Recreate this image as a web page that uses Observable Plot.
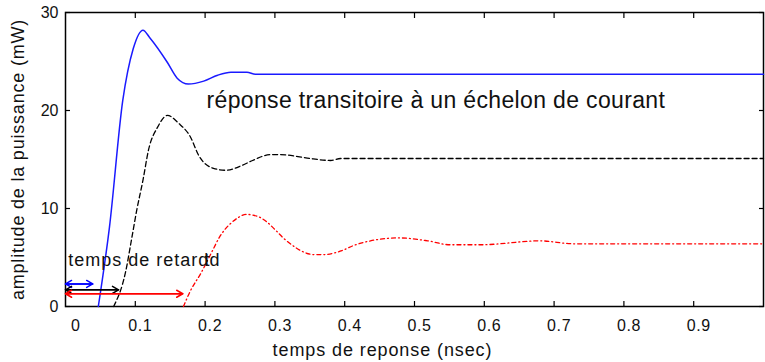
<!DOCTYPE html>
<html>
<head>
<meta charset="utf-8">
<script src="https://cdn.jsdelivr.net/npm/d3@7"></script>
<script src="https://cdn.jsdelivr.net/npm/@observablehq/plot@0.6"></script>
<style>
  body { margin: 0; background: #fff; }
  svg { display: block; }
</style>
</head>
<body>
<div id="chart"></div>
<script>
// Step responses of the optical power (mW) vs time (ns) for three drive currents
const blueT = [0.047, 0.063, 0.082, 0.097, 0.111, 0.121, 0.146, 0.160, 0.176, 0.198, 0.218, 0.237, 0.260, 0.272, 1.0];
const blueP = [0, 8.1, 21.0, 26.3, 28.2, 27.4, 24.9, 23.3, 22.7, 23.0, 23.6, 23.9, 23.9, 23.7, 23.7];

const blackT = [0.069, 0.086, 0.095, 0.102, 0.111, 0.119, 0.132, 0.146, 0.162, 0.179, 0.191, 0.212, 0.230, 0.253, 0.268, 0.294, 0.308, 0.333, 0.351, 0.380, 0.394, 1.0];
const blackP = [0, 3.5, 7.0, 9.8, 12.9, 16.0, 18.3, 19.5, 18.7, 17.3, 15.4, 14.1, 13.9, 14.4, 14.9, 15.5, 15.5, 15.3, 15.1, 14.9, 15.1, 15.1];

const redT = [0.169, 0.179, 0.194, 0.212, 0.220, 0.230, 0.237, 0.248, 0.259, 0.275, 0.289, 0.298, 0.315, 0.330, 0.337, 0.356, 0.370, 0.396, 0.412, 0.437, 0.477, 0.519, 0.551, 0.595, 0.680, 0.728, 0.838, 1.0];
const redP = [0, 1.6, 3.4, 5.9, 7.0, 8.0, 8.5, 9.1, 9.4, 9.2, 8.6, 8.0, 6.8, 6.0, 5.7, 5.3, 5.3, 5.7, 6.2, 6.7, 7.0, 6.7, 6.3, 6.3, 6.7, 6.4, 6.4, 6.4];

// Delay time (td) markers: double arrows from t = 0 to each delay
const delayColors = ["#0000ff", "#000000", "#ff0000"];
const delayEnds = [0.039, 0.076, 0.168];
const delayLevels = [2.3, 1.7, 1.3];
const delayStart = 0;

// Axis ticks
const xTicks = [0.1, 0.2, 0.3, 0.4, 0.5, 0.6, 0.7, 0.8, 0.9];
const xTickLabels = ["0.1", "0.2", "0.3", "0.4", "0.5", "0.6", "0.7", "0.8", "0.9"];
const xOrigin = [0];
const xOriginLabel = "0";
const yTicks = [0, 10, 20, 30];
const yTickLabels = ["0", "10", "20", "30"];

// Texts
const title = "réponse transitoire à un échelon de courant";
const delayLabel = "temps de retard";
const tdLabel = "td";
const xLabel = "temps de reponse (nsec)";
const yLabel = "amplitude de la puissance (mW)";

const rows = (ts, ps) => ts.map((t, i) => ({t, p: ps[i]}));
const arrows = delayEnds.map((e, i) => ({a: delayStart, b: e, y: delayLevels[i], c: delayColors[i]}));

const font = "'Liberation Sans', Arial, sans-serif";

const chart = Plot.plot({
  width: 765,
  height: 362,
  marginLeft: 65,
  marginRight: 2,
  marginTop: 12,
  marginBottom: 56,
  x: {domain: [0, 1]},
  y: {domain: [0, 30]},
  color: {type: "identity"},
  style: {fontFamily: font, fontSize: "16px", background: "#fff", color: "#000"},
  marks: [
    // inward tick marks on all four sides
    Plot.axisX(xTicks, {anchor: "bottom", tickSize: -5, fill: "none", label: null, strokeWidth: 1.2}),
    Plot.axisX(xTicks, {anchor: "top", tickSize: -5, fill: "none", label: null, strokeWidth: 1.2}),
    Plot.axisY(yTicks, {anchor: "left", tickSize: -5, fill: "none", label: null, strokeWidth: 1.2}),
    Plot.axisY(yTicks, {anchor: "right", tickSize: -5, fill: "none", label: null, strokeWidth: 1.2}),
    // tick labels
    Plot.axisX(xTicks, {anchor: "bottom", tickSize: 0, tickPadding: 13, dx: 5, label: null,
      tickFormat: (d) => xTickLabels[xTicks.indexOf(d)], fontSize: 16, fill: "#111"}),
    Plot.axisX(xOrigin, {anchor: "bottom", tickSize: 0, tickPadding: 13, dx: 10, label: null,
      tickFormat: () => xOriginLabel, fontSize: 16, fill: "#111"}),
    Plot.axisY(yTicks, {anchor: "left", tickSize: 0, tickPadding: 7, label: null,
      tickFormat: (d) => yTickLabels[yTicks.indexOf(d)], fontSize: 16, fill: "#111"}),
    Plot.frame({stroke: "#000", strokeWidth: 1.5}),
    // response curves
    Plot.line(rows(blueT, blueP), {x: "t", y: "p", stroke: "#1a1aff", strokeWidth: 1.5, curve: "monotone-x"}),
    Plot.line(rows(blackT, blackP), {x: "t", y: "p", stroke: "#000", strokeWidth: 1.3, strokeDasharray: "5,3", curve: "monotone-x"}),
    Plot.line(rows(redT, redP), {x: "t", y: "p", stroke: "#ff0000", strokeWidth: 1.3, strokeDasharray: "4,3,1,3", curve: "monotone-x"}),
    // delay arrows (one head at each end)
    Plot.arrow(arrows, {x1: "a", x2: "b", y1: "y", y2: "y", stroke: "c", strokeWidth: 1.5, headLength: 7}),
    Plot.arrow(arrows, {x1: "b", x2: "a", y1: "y", y2: "y", stroke: "c", strokeWidth: 1.5, headLength: 7}),
    // annotations
    Plot.text([title], {x: 0.202, y: 21.0, text: (d) => d, textAnchor: "start", fontSize: 23, fill: "#111"}),
    Plot.text([delayLabel], {x: 0.004, y: 4.7, text: (d) => d, textAnchor: "start", fontSize: 18, fill: "#111"}),
    Plot.text([tdLabel], {x: 0.199, y: 4.7, text: (d) => d, textAnchor: "start", fontSize: 18, fill: "#111"}),
    // axis titles
    Plot.text([xLabel], {frameAnchor: "bottom", text: (d) => d, dx: -32, dy: 49, fontSize: 18, fill: "#111"}),
    Plot.text([yLabel], {frameAnchor: "left", textAnchor: "middle", text: (d) => d, dx: -47, rotate: -90, fontSize: 18, fill: "#111"})
  ]
});

// wider letter spacing, as in the original bitmap font
const spacing = new Map([[title, 0.35], [delayLabel, 1.0], [xLabel, 0.9], [yLabel, 0.8]]);
d3.select(chart).selectAll("text")
  .filter(function() { return spacing.has(this.textContent); })
  .attr("letter-spacing", function() { return `${spacing.get(this.textContent)}px`; });
d3.select(chart).selectAll("text")
  .filter(function() { return xTickLabels.includes(this.textContent); })
  .attr("letter-spacing", "0.6px");

document.getElementById("chart").append(chart);
</script>
</body>
</html>
